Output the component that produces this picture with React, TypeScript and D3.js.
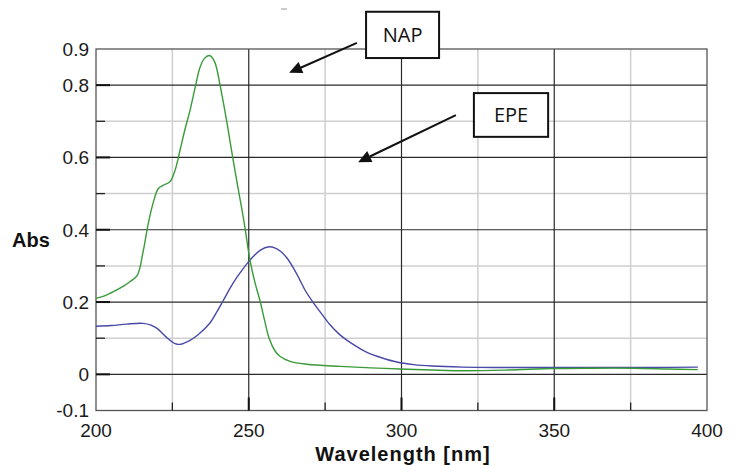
import React from "react";
import * as d3 from "d3";

const napWavelength = [200, 203, 206, 209, 211.1, 213.5, 215.5, 217.1, 218.8, 220.4, 222, 224.2, 225.9, 227.5, 229.2, 230.8, 232.5, 234, 235.5, 237.1, 238.8, 240.6, 242.8, 244.7, 246.5, 248.5, 250.4, 252, 253.7, 255.3, 256.7, 258.5, 260.2, 263.5, 269, 279.9, 290, 299.5, 310, 321, 335, 349.6, 362, 375.8, 387, 397];
const napAbs = [0.21, 0.218, 0.23, 0.244, 0.256, 0.274, 0.343, 0.417, 0.477, 0.514, 0.523, 0.533, 0.565, 0.62, 0.68, 0.731, 0.795, 0.848, 0.874, 0.882, 0.865, 0.8, 0.699, 0.602, 0.515, 0.42, 0.316, 0.255, 0.203, 0.145, 0.099, 0.066, 0.05, 0.036, 0.028, 0.022, 0.018, 0.015, 0.012, 0.01, 0.012, 0.016, 0.017, 0.017, 0.015, 0.013];

const epeWavelength = [200, 205, 210, 215.4, 218, 220, 223, 225.9, 227.5, 230.8, 233.5, 237.3, 239.5, 241.7, 244, 246.1, 248.3, 250.4, 253.7, 256.7, 258.5, 260.5, 262.5, 264.5, 266.5, 268.5, 271, 273.8, 276.6, 279.5, 282.2, 285.5, 288.7, 293.5, 298.5, 304, 310, 320, 332, 350, 365, 380, 397];
const epeAbs = [0.133, 0.135, 0.139, 0.141, 0.136, 0.127, 0.103, 0.085, 0.083, 0.094, 0.11, 0.142, 0.172, 0.205, 0.24, 0.268, 0.294, 0.316, 0.343, 0.353, 0.35, 0.34, 0.322, 0.296, 0.265, 0.232, 0.2, 0.168, 0.137, 0.112, 0.094, 0.076, 0.061, 0.046, 0.034, 0.027, 0.023, 0.02, 0.019, 0.019, 0.019, 0.019, 0.02];

const xMajorTicks = [250, 300, 350];
const xMinorTicks = [225, 275, 325, 375];
const xTickLabels = [200, 250, 300, 350, 400];
const yMajorTicks = [0.8, 0.6, 0.4, 0.2, 0];
const yMinorTicks = [0.7, 0.5, 0.3, 0.1];
const yTickLabels = [0.9, 0.8, 0.6, 0.4, 0.2, 0, -0.1];

// annotations in data coordinates
const annotLabels = ["NAP", "EPE"];
const annotBoxes = [
  [288.4, 312.3, 1.003, 0.875],
  [323.7, 348.0, 0.778, 0.657],
];
const annotArrows = [
  [285.4, 0.917, 263.2, 0.834],
  [317.8, 0.717, 285.8, 0.587],
];

const W = 739;
const H = 465;
const left = 96, right = 707, top = 49, bottom = 410.5;

export default function App() {
  const x = d3.scaleLinear().domain([200, 400]).range([left, right]);
  const y = d3.scaleLinear().domain([-0.1, 0.9]).range([bottom, top]);

  const line = d3
    .line<[number, number]>()
    .x((d) => x(d[0]))
    .y((d) => y(d[1]))
    .curve(d3.curveCatmullRom.alpha(0.5));

  const napPts = napWavelength.map((w, i) => [w, napAbs[i]] as [number, number]);
  const epePts = epeWavelength.map((w, i) => [w, epeAbs[i]] as [number, number]);

  const font = "'Liberation Sans', Arial, sans-serif";

  const arrowHead = (x1: number, y1: number, x2: number, y2: number) => {
    const ang = Math.atan2(y2 - y1, x2 - x1);
    const len = 13, hw = 6;
    const bx = x2 - len * Math.cos(ang);
    const by = y2 - len * Math.sin(ang);
    const px = -Math.sin(ang) * hw;
    const py = Math.cos(ang) * hw;
    return `M${x2},${y2}L${bx + px},${by + py}L${bx - px},${by - py}Z`;
  };

  return (
    <svg width={W} height={H} style={{ position: "absolute", left: 0, top: 0, background: "#fff" }}>
      <rect x={0} y={0} width={W} height={H} fill="#fff" />
      {yMinorTicks.map((t) => (
        <line key={"ym" + t} x1={left} x2={right} y1={y(t)} y2={y(t)} stroke="#cfcfcf" strokeWidth={1.5} />
      ))}
      {xMinorTicks.map((t) => (
        <line key={"xm" + t} x1={x(t)} x2={x(t)} y1={top} y2={bottom} stroke="#cfcfcf" strokeWidth={1.5} />
      ))}
      {yMajorTicks.map((t) => (
        <line key={"yM" + t} x1={left} x2={right} y1={y(t)} y2={y(t)} stroke="#2a2a2a" strokeWidth={1.2} />
      ))}
      {xMajorTicks.map((t) => (
        <line key={"xM" + t} x1={x(t)} x2={x(t)} y1={top} y2={bottom} stroke="#2a2a2a" strokeWidth={1.2} />
      ))}
      <rect x={left} y={top} width={right - left} height={bottom - top} fill="none" stroke="#555" strokeWidth={1.3} />
      {yMinorTicks.map((t) => (
        <line key={"ymt" + t} x1={left} x2={left + 9} y1={y(t)} y2={y(t)} stroke="#222" strokeWidth={1.3} />
      ))}
      {yMajorTicks.map((t) => (
        <line key={"yMt" + t} x1={left} x2={left + 14} y1={y(t)} y2={y(t)} stroke="#111" strokeWidth={2} />
      ))}
      {xMinorTicks.map((t) => (
        <line key={"xmt" + t} x1={x(t)} x2={x(t)} y1={bottom} y2={bottom - 8} stroke="#222" strokeWidth={1.3} />
      ))}
      {xMajorTicks.map((t) => (
        <line key={"xMt" + t} x1={x(t)} x2={x(t)} y1={bottom} y2={bottom - 13} stroke="#111" strokeWidth={2} />
      ))}
      {yTickLabels.map((t) => (
        <text key={"yl" + t} x={left - 7} y={y(t)} dy="0.36em" textAnchor="end" fontFamily={font} fontSize={19} fill="#1a1a1a">
          {String(t)}
        </text>
      ))}
      {xTickLabels.map((t) => (
        <text key={"xl" + t} x={x(t)} y={437} textAnchor="middle" fontFamily={font} fontSize={19} fill="#1a1a1a">
          {String(t)}
        </text>
      ))}
      <text x={31} y={247} textAnchor="middle" fontFamily={font} fontSize={20} fontWeight="bold" fill="#111">
        Abs
      </text>
      <text x={403} y={461} textAnchor="middle" fontFamily={font} fontSize={20} fontWeight="bold" fill="#111" letterSpacing={1}>
        Wavelength [nm]
      </text>
      <path d={line(epePts) || ""} fill="none" stroke="#4848a8" strokeWidth={1.4} />
      <path d={line(napPts) || ""} fill="none" stroke="#3a9a3a" strokeWidth={1.4} />
      {annotLabels.map((lab, i) => {
        const [bx0, bx1, by0, by1] = annotBoxes[i];
        const [tx, ty, hx, hy] = annotArrows[i];
        const X0 = x(bx0), X1 = x(bx1), Y0 = y(by0), Y1 = y(by1);
        const ax1 = x(tx), ay1 = y(ty), ax2 = x(hx), ay2 = y(hy);
        return (
          <g key={lab}>
            <rect x={X0} y={Y0} width={X1 - X0} height={Y1 - Y0} fill="#fff" stroke="#111" strokeWidth={2} />
            <text x={(X0 + X1) / 2} y={(Y0 + Y1) / 2} dy="0.36em" textAnchor="middle" fontFamily="'Open Sans', sans-serif" fontSize={20} fill="#111">
              {lab}
            </text>
            <line x1={ax1} y1={ay1} x2={ax2 + (ax1 - ax2) * 0.12} y2={ay2 + (ay1 - ay2) * 0.12} stroke="#111" strokeWidth={2} />
            <path d={arrowHead(ax1, ay1, ax2, ay2)} fill="#111" />
          </g>
        );
      })}
      <line x1={281} x2={287} y1={9} y2={9} stroke="#999" strokeWidth={1} />
    </svg>
  );
}
